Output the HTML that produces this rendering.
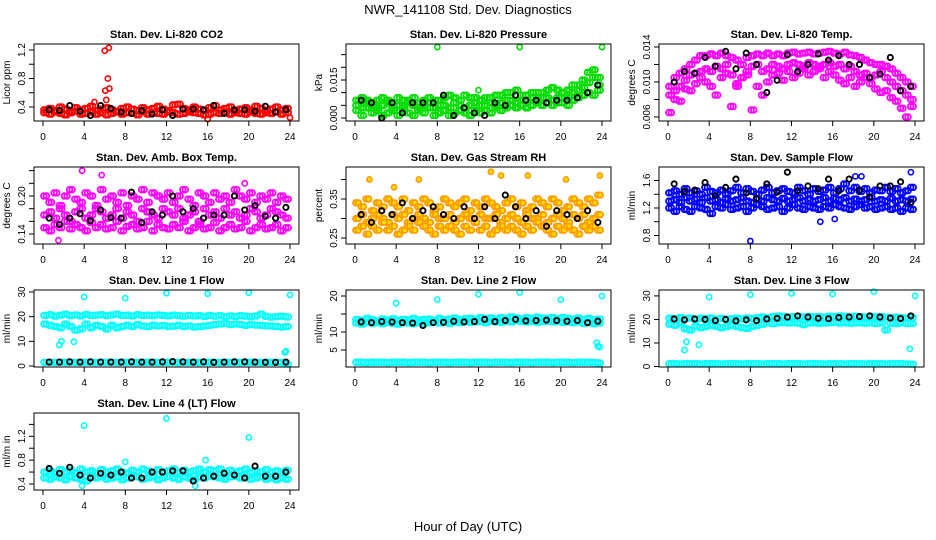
<!DOCTYPE html>
<html><head><meta charset="utf-8"><style>
body{margin:0;background:#fff;}
svg{display:block;font-family:"Liberation Sans",sans-serif;}
</style></head><body>
<svg id="fig" width="936" height="540" viewBox="0 0 936 540">
<text x="468" y="14" text-anchor="middle" font-size="13">NWR_141108 Std. Dev. Diagnostics</text>
<text x="468" y="531" text-anchor="middle" font-size="13">Hour of Day (UTC)</text>
</svg>
<script>
// ---- data ----
const xTicks = [0,4,8,12,16,20,24];
const xTickLabels = ["0","4","8","12","16","20","24"];

const co2A = [0.36,0.38,0.35,0.4,0.37,0.34,0.39,0.36,0.38,0.41,0.35,0.37,0.39,0.36,0.34,0.38,0.4,0.37,0.35,0.39,0.36,0.38,0.41,0.37,0.35,0.43,0.44,0.38,0.36,0.4,0.37,0.35,0.39,0.42,0.36,0.38,0.4,0.35,0.37,0.39,0.36,0.41,0.38,0.35,0.37,0.4,0.36,0.38];
const co2B = [0.32,0.3,0.33,0.31,0.29,0.32,0.34,0.3,0.31,0.33,0.3,0.32,0.29,0.31,0.33,0.3,0.32,0.31,0.29,0.33,0.3,0.32,0.31,0.3,0.33,0.32,0.3,0.31,0.33,0.32,0.31,0.29,0.3,0.32,0.31,0.33,0.3,0.32,0.31,0.3,0.33,0.31,0.3,0.32,0.31,0.33,0.3,0.32];
const co2OutHours = [6,6.4,6.3,6.45,6.05,6.15,5,16,24];
const co2OutVals = [1.19,1.23,0.8,0.66,0.63,0.5,0.47,0.23,0.25];
const co2Black = [0.36,0.35,0.42,0.34,0.28,0.42,0.38,0.33,0.31,0.35,0.3,0.36,0.28,0.37,0.37,0.36,0.42,0.31,0.36,0.36,0.34,0.41,0.33,0.36];

const presA = [0.007,0.008,0.007,0.006,0.007,0.008,0.007,0.006,0.008,0.007,0.007,0.008,0.006,0.007,0.008,0.007,0.007,0.008,0.009,0.008,0.007,0.009,0.008,0.008,0.007,0.008,0.008,0.009,0.009,0.01,0.01,0.011,0.009,0.009,0.01,0.01,0.01,0.011,0.012,0.011,0.01,0.011,0.013,0.013,0.015,0.018,0.019,0.016];
const presB = [0.003,0.001,0.004,0.002,0.003,0.001,0.002,0.004,0.001,0.003,0.002,0.001,0.003,0.002,0.004,0.001,0.002,0.003,0.001,0.002,0.003,0.002,0.001,0.003,0.002,0.003,0.002,0.004,0.003,0.004,0.005,0.004,0.005,0.004,0.005,0.006,0.005,0.006,0.005,0.006,0.006,0.005,0.007,0.008,0.009,0.01,0.009,0.011];
const presC = [0.005,0.004,0.006,0.005,0.004,0.005,0.006,0.003,0.005,0.004,0.006,0.005,0.004,0.005,0.006,0.004,0.005,0.005,0.004,0.006,0.005,0.004,0.005,0.006,0.005,0.005,0.006,0.005,0.006,0.007,0.007,0.006,0.007,0.007,0.008,0.007,0.008,0.008,0.007,0.008,0.008,0.008,0.01,0.011,0.012,0.014,0.016,0.013];
const presOutHours = [8,16,24,12];
const presOutVals = [0.028,0.028,0.028,0.011];
const presBlack = [0.007,0.006,0.0,0.006,0.002,0.006,0.006,0.006,0.009,0.001,0.004,0.002,0.001,0.006,0.005,0.009,0.007,0.007,0.006,0.007,0.007,0.008,0.01,0.013];

const tempA = [0.0095,0.0105,0.011,0.0115,0.012,0.0125,0.013,0.013,0.0132,0.013,0.0133,0.013,0.0128,0.0125,0.012,0.0128,0.013,0.0132,0.013,0.0133,0.013,0.0132,0.013,0.0133,0.0134,0.0132,0.0133,0.0134,0.0132,0.0133,0.0134,0.0135,0.0133,0.0132,0.0134,0.0131,0.013,0.0128,0.0125,0.0122,0.012,0.012,0.0118,0.0115,0.011,0.0105,0.01,0.0095];
const tempB = [0.0085,0.009,0.0095,0.0102,0.0108,0.011,0.0112,0.0115,0.0112,0.0118,0.0115,0.012,0.0108,0.0095,0.0105,0.0112,0.0118,0.012,0.0112,0.0115,0.012,0.0118,0.0115,0.012,0.0122,0.012,0.0118,0.0122,0.012,0.0118,0.012,0.0122,0.0118,0.012,0.0115,0.0118,0.0112,0.0108,0.011,0.0105,0.0108,0.0112,0.0105,0.01,0.0095,0.009,0.0085,0.008];
const tempC = [0.0065,0.008,0.0078,0.0092,0.009,0.0098,0.0105,0.01,0.0095,0.0085,0.0105,0.011,0.0072,0.0098,0.0105,0.0108,0.0068,0.0095,0.0085,0.01,0.0108,0.011,0.0102,0.0112,0.0105,0.011,0.0115,0.0108,0.0112,0.0115,0.0105,0.0112,0.0108,0.0102,0.0098,0.0105,0.0095,0.01,0.0105,0.0098,0.0092,0.0088,0.009,0.0082,0.0078,0.007,0.006,0.0072];
const tempOutHours = [];
const tempOutVals = [];
const tempBlack = [0.010,0.0112,0.011,0.0128,0.0118,0.0135,0.0115,0.0133,0.012,0.0088,0.0102,0.0131,0.0112,0.012,0.0132,0.0125,0.013,0.012,0.012,0.0105,0.0109,0.0128,0.009,0.0095];

const ambA = [0.2,0.19,0.205,0.185,0.2,0.21,0.195,0.19,0.205,0.2,0.185,0.21,0.195,0.2,0.19,0.205,0.185,0.2,0.195,0.21,0.19,0.205,0.2,0.195,0.205,0.19,0.2,0.21,0.195,0.185,0.205,0.2,0.19,0.205,0.195,0.2,0.19,0.21,0.2,0.195,0.205,0.19,0.2,0.195,0.205,0.19,0.2,0.195];
const ambB = [0.17,0.175,0.165,0.18,0.17,0.16,0.175,0.18,0.165,0.17,0.18,0.175,0.165,0.17,0.18,0.165,0.175,0.17,0.16,0.18,0.175,0.17,0.165,0.18,0.175,0.17,0.18,0.165,0.17,0.175,0.16,0.18,0.17,0.175,0.165,0.18,0.17,0.175,0.165,0.17,0.18,0.175,0.165,0.17,0.18,0.175,0.17,0.165];
const ambC = [0.15,0.145,0.155,0.15,0.16,0.148,0.155,0.15,0.145,0.158,0.15,0.155,0.148,0.15,0.16,0.145,0.152,0.155,0.148,0.15,0.16,0.145,0.155,0.15,0.148,0.155,0.15,0.16,0.145,0.15,0.155,0.148,0.15,0.158,0.145,0.15,0.155,0.148,0.15,0.16,0.145,0.15,0.155,0.148,0.15,0.155,0.145,0.15];
const ambOutHours = [3.8,5.7,1.5,19.6];
const ambOutVals = [0.24,0.233,0.13,0.22];
const ambBlack = [0.165,0.155,0.165,0.172,0.161,0.178,0.166,0.165,0.206,0.158,0.175,0.17,0.2,0.175,0.18,0.165,0.17,0.17,0.2,0.178,0.185,0.168,0.165,0.182];

const rhA = [0.34,0.33,0.35,0.32,0.34,0.33,0.35,0.34,0.33,0.35,0.32,0.34,0.33,0.35,0.34,0.32,0.33,0.35,0.34,0.33,0.34,0.35,0.32,0.34,0.33,0.35,0.34,0.33,0.32,0.34,0.35,0.33,0.34,0.32,0.33,0.35,0.34,0.33,0.35,0.34,0.32,0.33,0.35,0.34,0.33,0.35,0.34,0.36];
const rhB = [0.3,0.31,0.29,0.3,0.31,0.3,0.29,0.31,0.3,0.31,0.29,0.3,0.31,0.3,0.29,0.31,0.3,0.3,0.31,0.29,0.3,0.31,0.3,0.29,0.31,0.3,0.3,0.31,0.29,0.3,0.31,0.3,0.29,0.31,0.3,0.3,0.31,0.29,0.3,0.31,0.3,0.29,0.31,0.3,0.31,0.29,0.3,0.31];
const rhC = [0.27,0.28,0.26,0.28,0.27,0.29,0.27,0.28,0.26,0.27,0.28,0.27,0.29,0.28,0.27,0.26,0.28,0.27,0.28,0.27,0.26,0.28,0.27,0.29,0.27,0.28,0.26,0.27,0.28,0.27,0.28,0.27,0.26,0.28,0.27,0.29,0.28,0.27,0.26,0.28,0.27,0.28,0.27,0.26,0.28,0.27,0.28,0.27];
const rhOutHours = [1.4,3.8,6.2,13.2,14.2,16.8,20.5,23.8];
const rhOutVals = [0.4,0.38,0.4,0.42,0.41,0.41,0.4,0.41];
const rhBlack = [0.31,0.29,0.32,0.31,0.34,0.3,0.32,0.33,0.31,0.3,0.33,0.3,0.33,0.3,0.36,0.33,0.3,0.32,0.28,0.32,0.31,0.3,0.32,0.29];

const flowA = [1.42,1.45,1.4,1.48,1.42,1.45,1.4,1.5,1.44,1.42,1.46,1.4,1.45,1.5,1.42,1.48,1.44,1.4,1.46,1.5,1.42,1.45,1.48,1.44,1.42,1.5,1.45,1.4,1.48,1.44,1.46,1.5,1.42,1.48,1.55,1.45,1.5,1.44,1.48,1.42,1.46,1.45,1.5,1.44,1.48,1.42,1.45,1.5];
const flowB = [1.3,1.32,1.28,1.35,1.3,1.33,1.28,1.35,1.3,1.32,1.28,1.34,1.3,1.32,1.35,1.3,1.28,1.33,1.3,1.35,1.32,1.3,1.34,1.3,1.32,1.35,1.3,1.33,1.3,1.32,1.35,1.3,1.34,1.32,1.35,1.3,1.33,1.3,1.32,1.35,1.3,1.32,1.3,1.34,1.3,1.32,1.3,1.33];
const flowC = [1.2,1.15,1.22,1.18,1.15,1.22,1.2,1.18,1.12,1.22,1.2,1.25,1.18,1.2,1.22,1.15,1.2,1.25,1.22,1.18,1.2,1.22,1.15,1.2,1.25,1.2,1.18,1.22,1.2,1.18,1.22,1.2,1.25,1.22,1.2,1.18,1.22,1.25,1.2,1.22,1.18,1.2,1.22,1.18,1.2,1.15,1.2,1.18];
const flowOutHours = [8,14.8,16.2,23.6,18.2,18.8];
const flowOutVals = [0.72,1.0,1.04,1.72,1.66,1.66];
const flowBlack = [1.55,1.44,1.46,1.57,1.38,1.5,1.62,1.42,1.34,1.55,1.43,1.72,1.45,1.52,1.48,1.62,1.45,1.62,1.46,1.36,1.52,1.52,1.58,1.28];

const l1A = [20.5,20.8,20.2,20.6,21,20.4,20.7,20.3,20.9,20.5,20.6,20.8,20.4,20.7,21,20.5,20.6,20.3,20.8,20.5,20.6,20.4,20.7,20.5,20.3,20.6,20.4,20.2,20.5,20.3,20.4,20.1,20.5,20.2,20.4,20,20.3,20.1,20.4,20.2,20,20.3,21,20.1,19.8,20,20.2,19.9];
const l1B = [17,16.5,16,15.5,17,16,14.5,15,17,15.5,16.5,16,15,16.5,15.5,16,16.5,16,16.8,16.2,16,16.5,16.2,16.4,16,16.2,16.5,16,16.3,15.8,16,16.2,16.5,16.8,17,17.2,16.8,17,16.8,16.5,16.8,16.6,16.5,16.3,16.2,16,15.8,16];
const l1C = [1.5,1.5,1.4,1.5,1.5,1.5,1.4,1.5,1.5,1.5,1.4,1.5,1.5,1.5,1.4,1.5,1.5,1.5,1.4,1.5,1.5,1.5,1.4,1.5,1.5,1.5,1.4,1.5,1.5,1.5,1.4,1.5,1.5,1.5,1.4,1.5,1.5,1.5,1.4,1.5,1.5,1.5,1.4,1.5,1.5,1.5,1.4,0.8];
const l1OutHours = [4,8,12,16,20,24,1.6,1.8,3,23.5,23.6];
const l1OutVals = [28,27.5,29.5,29.3,29.7,28.8,8.5,10,9.8,5.5,6];
const l1Black = [1.6,1.6,1.7,1.6,1.7,1.6,1.6,1.6,1.7,1.6,1.6,1.7,1.8,1.7,1.6,1.7,1.5,1.6,1.7,1.7,1.6,1.5,1.5,1.6];

const l2A = [13.5,13.2,13.8,13.4,13,13.6,13.3,13.7,13.2,13.5,13.4,13.8,13.3,13.5,13.6,13.2,13.8,13.4,13.6,13.9,13.5,13.7,13.8,13.6,14,13.7,13.9,13.6,14,13.8,14.2,13.9,13.7,14,13.8,14.1,13.9,13.8,14,13.7,14,13.8,13.6,13.9,13.5,13.8,13.4,13.6];
const l2B = [12.5,12.2,12.8,12.4,12.6,12.3,12.7,12.4,12.2,12.6,12.5,12.3,12.7,12.4,12.6,12.8,12.5,12.7,12.4,12.8,12.6,12.9,12.7,12.8,12.9,12.6,13,12.8,12.7,13,12.8,13.1,12.9,12.8,13,12.7,12.9,13,12.8,12.9,12.7,12.8,12.6,12.8,12.4,12.6,12.3,12.5];
const l2C = [1.6,1.6,1.5,1.6,1.6,1.6,1.5,1.6,1.6,1.6,1.5,1.6,1.6,1.6,1.5,1.6,1.6,1.6,1.5,1.6,1.6,1.6,1.5,1.6,1.6,1.6,1.5,1.6,1.6,1.6,1.5,1.6,1.6,1.6,1.5,1.6,1.6,1.6,1.5,1.6,1.6,1.6,1.5,1.6,1.6,1.6,1.5,1.4];
const l2OutHours = [4,8,12,16,20,24,23.5,23.6,23.8];
const l2OutVals = [18,19,20.5,21,19,20,7,6,5.8];
const l2Black = [12.8,12.6,12.9,12.8,12.6,12.5,11.8,12.6,12.7,13,12.8,12.9,13.5,12.9,13.2,13.5,13.1,13.2,13.3,13.2,13,13.2,12.6,13];

const l3A = [20.5,20.2,20.8,20.4,20.6,20,20.5,20.3,20.6,20.2,20.4,20.1,20.3,20.5,20.2,20.6,20.4,20.8,21,20.7,21.2,21.5,21.3,21,21.2,21.4,21,21.3,21.1,21.2,21,21.4,21.2,21.5,21.3,21.1,21.4,21.2,21,21.3,21.1,21.2,21,20.8,21,20.8,20.6,20.8];
const l3B = [18,17.5,18.5,16,15.5,17,16.5,17,17.5,17,16.5,17,17.5,17,16.5,16.2,17,17.5,18,18.5,18.2,18.5,18.8,18.5,18.6,18.4,17.8,18.5,18.6,18.4,18.5,18.6,18.8,18.5,18.6,18.4,18.5,18.6,18.4,18.5,18.3,18.5,15.5,18.4,18.2,18.5,18.3,18.2];
const l3C = [1.2,1.2,1.1,1.2,1.2,1.2,1.1,1.2,1.2,1.2,1.1,1.2,1.2,1.2,1.1,1.2,1.2,1.2,1.1,1.2,1.2,1.2,1.1,1.2,1.2,1.2,1.1,1.2,1.2,1.2,1.1,1.2,1.2,1.2,1.1,1.2,1.2,1.2,1.1,1.2,1.2,1.2,1.1,1.2,1.2,1.2,1.1,1.0];
const l3OutHours = [4,8,12,16,20,24,1.6,1.8,3,23.5];
const l3OutVals = [29.5,30.5,31,30.8,31.8,30,7,10.5,9.2,7.5];
const l3Black = [20.2,19.8,20.2,20,19.5,20,19.4,19.8,19.5,20.2,20.5,21,21.5,21,20.5,20.3,20.8,21,21.2,21.5,21,20.6,20.4,21.5];

const ltA = [0.6,0.62,0.58,0.64,0.6,0.63,0.58,0.65,0.6,0.62,0.58,0.64,0.6,0.62,0.65,0.6,0.58,0.63,0.6,0.65,0.62,0.6,0.64,0.6,0.62,0.65,0.6,0.63,0.6,0.62,0.65,0.6,0.64,0.62,0.65,0.6,0.63,0.6,0.62,0.65,0.6,0.62,0.6,0.64,0.6,0.62,0.6,0.63];
const ltB = [0.5,0.48,0.52,0.5,0.47,0.52,0.5,0.48,0.45,0.52,0.5,0.53,0.48,0.5,0.52,0.47,0.5,0.53,0.52,0.48,0.5,0.52,0.47,0.5,0.53,0.5,0.48,0.52,0.5,0.48,0.52,0.5,0.53,0.52,0.5,0.48,0.52,0.53,0.5,0.52,0.48,0.5,0.52,0.48,0.5,0.47,0.5,0.48];
const ltOutHours = [4,12,20,15.8,8,3.8,14.8];
const ltOutVals = [1.38,1.5,1.18,0.8,0.77,0.37,0.37];
const ltBlack = [0.66,0.58,0.68,0.55,0.5,0.58,0.55,0.6,0.5,0.5,0.6,0.6,0.62,0.62,0.45,0.5,0.53,0.58,0.55,0.5,0.7,0.53,0.53,0.6];

// ---- layout ----
const NS = "http://www.w3.org/2000/svg";
const svg = document.getElementById('fig');
const colLeft = [34, 346, 659];
const rowTop = [44, 167, 290, 413];
const boxW = 265, boxH = 77;

const panels = [
 {c:0,r:0,title:"Stan. Dev. Li-820 CO2",ylab:"Licor ppm",lo:0.2035,hi:1.284,ticks:[0.4,0.6,0.8,1.0,1.2],labs:{"0.4":"0.4","0.8":"0.8","1.2":"1.2"},series:[co2A,co2B],oh:co2OutHours,ov:co2OutVals,bl:co2Black,col:"#ff0000",fill:"none"},
 {c:1,r:0,title:"Stan. Dev. Li-820 Pressure",ylab:"kPa",lo:-0.00118,hi:0.0292,ticks:[0,0.005,0.01,0.015,0.02,0.025],labs:{"0":"0.000","0.015":"0.015"},series:[presA,presB,presC],oh:presOutHours,ov:presOutVals,bl:presBlack,col:"#00dd00",fill:"none"},
 {c:2,r:0,title:"Stan. Dev. Li-820 Temp.",ylab:"degrees C",lo:0.00554,hi:0.01434,ticks:[0.006,0.008,0.01,0.012,0.014],labs:{"0.006":"0.006","0.01":"0.010","0.014":"0.014"},series:[tempA,tempB,tempC],oh:tempOutHours,ov:tempOutVals,bl:tempBlack,col:"#ff00ff",fill:"none"},
 {c:0,r:1,title:"Stan. Dev. Amb. Box Temp.",ylab:"degrees C",lo:0.1242,hi:0.2458,ticks:[0.14,0.16,0.18,0.2,0.22,0.24],labs:{"0.14":"0.14","0.2":"0.20"},series:[ambA,ambB,ambC],oh:ambOutHours,ov:ambOutVals,bl:ambBlack,col:"#ff00ff",fill:"none"},
 {c:1,r:1,title:"Stan. Dev. Gas Stream RH",ylab:"percent",lo:0.2346,hi:0.432,ticks:[0.25,0.3,0.35,0.4],labs:{"0.25":"0.25","0.35":"0.35"},series:[rhA,rhB,rhC],oh:rhOutHours,ov:rhOutVals,bl:rhBlack,col:"#ff9a00",fill:"#ffe000"},
 {c:2,r:1,title:"Stan. Dev. Sample Flow",ylab:"ml/min",lo:0.6764,hi:1.796,ticks:[0.8,1.0,1.2,1.4,1.6],labs:{"0.8":"0.8","1.2":"1.2","1.6":"1.6"},series:[flowA,flowB,flowC],oh:flowOutHours,ov:flowOutVals,bl:flowBlack,col:"#0000ff",fill:"none"},
 {c:0,r:2,title:"Stan. Dev. Line 1 Flow",ylab:"ml/min",lo:-0.4,hi:30.8,ticks:[0,10,20,30],labs:{"0":"0","10":"10","20":"20","30":"30"},series:[l1A,l1B,l1C],oh:l1OutHours,ov:l1OutVals,bl:l1Black,col:"#00ffff",fill:"none"},
 {c:1,r:2,title:"Stan. Dev. Line 2 Flow",ylab:"ml/min",lo:0.28,hi:21.67,ticks:[5,10,15,20],labs:{"5":"5","10":"10","20":"20"},series:[l2A,l2B,l2C],oh:l2OutHours,ov:l2OutVals,bl:l2Black,col:"#00ffff",fill:"none"},
 {c:2,r:2,title:"Stan. Dev. Line 3 Flow",ylab:"ml/min",lo:-0.2,hi:32.5,ticks:[0,10,20,30],labs:{"0":"0","10":"10","20":"20","30":"30"},series:[l3A,l3B,l3C],oh:l3OutHours,ov:l3OutVals,bl:l3Black,col:"#00ffff",fill:"none"},
 {c:0,r:3,title:"Stan. Dev. Line 4 (LT) Flow",ylab:"ml/m in",lo:0.299,hi:1.591,ticks:[0.4,0.6,0.8,1.0,1.2,1.4],labs:{"0.4":"0.4","0.8":"0.8","1.2":"1.2"},series:[ltA,ltB],oh:ltOutHours,ov:ltOutVals,bl:ltBlack,col:"#00ffff",fill:"none"}
];

function mk(tag, attrs, parent){
  const e = document.createElementNS(NS, tag);
  for (const k in attrs) e.setAttribute(k, attrs[k]);
  (parent||svg).appendChild(e);
  return e;
}

panels.forEach((p, idx) => {
  const L = colLeft[p.c], T = rowTop[p.r], B = T + boxH, R = L + boxW;
  const xs = h => L + 9 + h * (247/24);
  const ys = v => B - (v - p.lo) / (p.hi - p.lo) * boxH;
  const g = mk('g', {});
  
  

  const t = mk('text', {x: L + boxW/2, y: T - 6, 'text-anchor':'middle', 'font-size':'11', 'font-weight':'bold'}, g);
  t.textContent = p.title;
  
  

  // points
  const pts = mk('g', {}, g);
  
  
  p.series.forEach(arr => {
    arr.forEach((v, i) => {
      [0.08, 0.33].forEach(off => {
        const h = i * 0.5 + off;
        const c = mk('circle', {cx: xs(h), cy: ys(v), r: 2.8, fill: p.fill, stroke: p.col, 'stroke-width': 1.8}, pts);
        
        
      });
    });
  });
  p.oh.forEach((h, i) => {
    const c = mk('circle', {cx: xs(h), cy: ys(p.ov[i]), r: 2.6, fill: p.fill, stroke: p.col, 'stroke-width': 1.6}, pts);
    
    
  });
  p.bl.forEach((v, i) => {
    const h = Math.min(i + 0.6, 23.9);
    const c = mk('circle', {cx: xs(h), cy: ys(v), r: 2.6, fill: 'none', stroke: '#000', 'stroke-width': 1.9}, pts);
    
    
  });

  // box
  const box = mk('rect', {x: L, y: T, width: boxW, height: boxH, fill: 'none', stroke: '#000', 'stroke-width': 1}, g);
  
  

  // x axis
  const xa = mk('g', {}, g);
  
  
  mk('line', {x1: xs(xTicks[0]), x2: xs(xTicks[xTicks.length-1]), y1: B, y2: B, stroke: '#000'}, xa);
  xTicks.forEach((v, i) => {
    mk('line', {x1: xs(v), x2: xs(v), y1: B, y2: B + 5, stroke: '#000'}, xa);
    const tl = mk('text', {x: xs(v), y: B + 19, 'text-anchor':'middle', 'font-size':'10'}, xa);
    tl.textContent = xTickLabels[i];
    
    
  });

  // y axis
  const ya = mk('g', {}, g);
  
  
  const tk = p.ticks.filter(v => v >= p.lo && v <= p.hi);
  mk('line', {x1: L, x2: L, y1: ys(tk[0]), y2: ys(tk[tk.length-1]), stroke: '#000'}, ya);
  tk.forEach(v => {
    mk('line', {x1: L - 5, x2: L, y1: ys(v), y2: ys(v), stroke: '#000'}, ya);
    const key = String(+v.toFixed(6));
    if (p.labs[key] !== undefined) {
      const yl = mk('text', {x: 0, y: 0, 'text-anchor':'middle', 'font-size':'10', transform: `translate(${L-9},${ys(v)}) rotate(-90)`}, ya);
      yl.textContent = p.labs[key];
      
      
    }
  });
  const yt = mk('text', {x: 0, y: 0, 'text-anchor':'middle', 'font-size':'10', transform: `translate(${L-24},${T + boxH/2}) rotate(-90)`}, ya);
  yt.textContent = p.ylab;
  
  
});
</script>
</body></html>
